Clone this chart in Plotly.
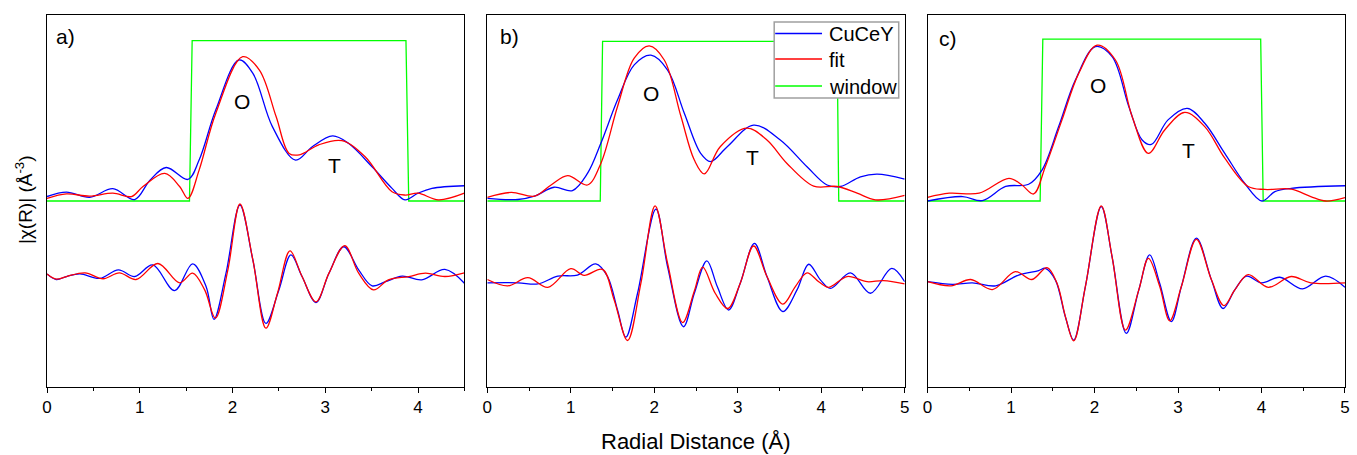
import plotly.graph_objects as go

# ---------------- Panel a ----------------
a_data_mag_R = [0, 0.21, 0.46, 0.71, 0.945, 1.11, 1.285, 1.52, 1.64, 1.82, 2.07, 2.22, 2.43, 2.68, 2.86, 3.08, 3.25, 3.505, 3.72, 3.86, 4.0, 4.15, 4.5]
a_data_mag = [0.512, 0.524, 0.510, 0.533, 0.504, 0.556, 0.590, 0.558, 0.610, 0.745, 0.879, 0.843, 0.700, 0.610, 0.646, 0.675, 0.655, 0.592, 0.534, 0.503, 0.521, 0.534, 0.541]
a_fit_mag_R = [0, 0.21, 0.46, 0.71, 0.91, 1.035, 1.27, 1.43, 1.52, 1.64, 1.82, 2.11, 2.29, 2.47, 2.61, 2.72, 2.93, 3.18, 3.43, 3.72, 3.86, 4.0, 4.22, 4.5]
a_fit_mag = [0.507, 0.519, 0.513, 0.521, 0.512, 0.539, 0.574, 0.539, 0.507, 0.583, 0.736, 0.888, 0.852, 0.727, 0.628, 0.624, 0.651, 0.662, 0.619, 0.525, 0.516, 0.521, 0.503, 0.521]
a_data_re_R = [0, 0.10, 0.21, 0.355, 0.57, 0.77, 0.945, 1.14, 1.375, 1.57, 1.715, 1.80, 1.93, 2.08, 2.22, 2.36, 2.50, 2.63, 2.75, 2.90, 3.04, 3.20, 3.36, 3.505, 3.65, 3.83, 4.04, 4.29, 4.5]
a_data_re = [0.304, 0.289, 0.297, 0.304, 0.292, 0.315, 0.297, 0.328, 0.259, 0.331, 0.270, 0.182, 0.306, 0.489, 0.341, 0.171, 0.261, 0.355, 0.297, 0.227, 0.306, 0.377, 0.315, 0.272, 0.283, 0.298, 0.288, 0.316, 0.279]
a_fit_re_R = [0, 0.10, 0.21, 0.41, 0.605, 0.78, 0.96, 1.196, 1.43, 1.57, 1.70, 1.815, 1.95, 2.08, 2.22, 2.36, 2.485, 2.62, 2.75, 2.90, 3.04, 3.21, 3.36, 3.52, 3.68, 3.90, 4.08, 4.29, 4.5]
a_fit_re = [0.304, 0.290, 0.297, 0.307, 0.291, 0.307, 0.289, 0.332, 0.280, 0.306, 0.261, 0.185, 0.315, 0.492, 0.341, 0.158, 0.252, 0.366, 0.297, 0.229, 0.306, 0.380, 0.306, 0.261, 0.288, 0.297, 0.306, 0.297, 0.307]
a_window_R = [0, 1.536, 1.565, 3.87, 3.90, 4.5]
a_window = [0.5, 0.5, 0.931, 0.931, 0.5, 0.5]

# ---------------- Panel b ----------------
b_data_mag_R = [0, 0.366, 0.565, 0.80, 1.02, 1.20, 1.36, 1.56, 1.76, 1.96, 2.16, 2.36, 2.556, 2.675, 2.874, 3.19, 3.51, 3.83, 4.07, 4.23, 4.47, 4.67, 5.0]
b_data_mag = [0.507, 0.504, 0.513, 0.537, 0.528, 0.574, 0.655, 0.772, 0.866, 0.892, 0.852, 0.736, 0.628, 0.606, 0.646, 0.704, 0.664, 0.592, 0.543, 0.539, 0.565, 0.572, 0.559]
b_fit_mag_R = [0, 0.287, 0.565, 0.764, 0.963, 1.20, 1.36, 1.56, 1.76, 1.94, 2.12, 2.32, 2.48, 2.60, 2.79, 3.11, 3.35, 3.59, 3.91, 4.19, 4.43, 4.65, 5.0]
b_fit_mag = [0.510, 0.523, 0.513, 0.543, 0.568, 0.543, 0.601, 0.754, 0.884, 0.917, 0.879, 0.727, 0.610, 0.573, 0.646, 0.696, 0.664, 0.601, 0.540, 0.539, 0.521, 0.503, 0.515]
b_data_re_R = [0, 0.37, 0.605, 0.844, 1.08, 1.30, 1.44, 1.56, 1.66, 1.80, 2.02, 2.16, 2.35, 2.48, 2.63, 2.755, 2.89, 3.03, 3.20, 3.35, 3.54, 3.71, 3.85, 3.99, 4.11, 4.35, 4.59, 4.845, 5.0]
b_data_re = [0.280, 0.280, 0.277, 0.298, 0.301, 0.331, 0.297, 0.207, 0.134, 0.252, 0.478, 0.323, 0.162, 0.252, 0.339, 0.270, 0.207, 0.279, 0.386, 0.297, 0.203, 0.261, 0.330, 0.288, 0.265, 0.307, 0.252, 0.319, 0.283]
b_fit_re_R = [0, 0.247, 0.486, 0.725, 1.00, 1.16, 1.38, 1.52, 1.68, 1.84, 2.01, 2.16, 2.34, 2.48, 2.58, 2.73, 2.88, 3.03, 3.19, 3.35, 3.54, 3.69, 3.83, 3.97, 4.09, 4.31, 4.55, 4.745, 5.0]
b_fit_re = [0.289, 0.272, 0.294, 0.268, 0.318, 0.300, 0.316, 0.234, 0.125, 0.279, 0.487, 0.332, 0.173, 0.258, 0.322, 0.252, 0.211, 0.279, 0.379, 0.297, 0.223, 0.270, 0.307, 0.283, 0.268, 0.297, 0.283, 0.286, 0.277]
b_window_R = [0, 1.353, 1.381, 4.19, 4.21, 5.0]
b_window = [0.5, 0.5, 0.929, 0.929, 0.5, 0.5]

# ---------------- Panel c ----------------
c_data_mag_R = [0, 0.42, 0.656, 0.935, 1.21, 1.37, 1.57, 1.77, 2.01, 2.21, 2.41, 2.57, 2.68, 2.88, 3.11, 3.32, 3.56, 3.80, 4.005, 4.16, 4.355, 5.0]
c_data_mag = [0.500, 0.512, 0.501, 0.539, 0.545, 0.583, 0.700, 0.825, 0.915, 0.888, 0.754, 0.664, 0.652, 0.718, 0.749, 0.709, 0.628, 0.547, 0.500, 0.525, 0.534, 0.541]
c_fit_mag_R = [0, 0.26, 0.617, 0.975, 1.13, 1.27, 1.41, 1.61, 1.81, 2.03, 2.25, 2.45, 2.645, 2.84, 3.08, 3.32, 3.56, 3.84, 4.04, 4.355, 4.59, 4.77, 5.0]
c_fit_mag = [0.510, 0.521, 0.521, 0.561, 0.543, 0.519, 0.592, 0.718, 0.843, 0.919, 0.879, 0.727, 0.628, 0.691, 0.738, 0.700, 0.615, 0.539, 0.531, 0.532, 0.512, 0.500, 0.509]
c_data_re_R = [0, 0.30, 0.537, 0.815, 1.09, 1.33, 1.41, 1.53, 1.65, 1.75, 1.89, 2.08, 2.21, 2.38, 2.53, 2.66, 2.78, 2.92, 3.04, 3.22, 3.40, 3.54, 3.68, 3.82, 4.0, 4.22, 4.49, 4.77, 5.0]
c_data_re = [0.283, 0.276, 0.280, 0.272, 0.301, 0.313, 0.319, 0.288, 0.189, 0.126, 0.270, 0.485, 0.350, 0.144, 0.261, 0.355, 0.279, 0.176, 0.270, 0.400, 0.288, 0.211, 0.261, 0.298, 0.280, 0.295, 0.264, 0.298, 0.268]
c_fit_re_R = [0, 0.28, 0.517, 0.776, 1.05, 1.25, 1.43, 1.55, 1.65, 1.75, 1.89, 2.08, 2.21, 2.37, 2.53, 2.645, 2.78, 2.90, 3.04, 3.22, 3.40, 3.55, 3.68, 3.84, 4.08, 4.355, 4.59, 5.0]
c_fit_re = [0.283, 0.272, 0.289, 0.262, 0.310, 0.289, 0.321, 0.279, 0.190, 0.124, 0.270, 0.487, 0.350, 0.153, 0.261, 0.346, 0.271, 0.178, 0.270, 0.397, 0.288, 0.219, 0.261, 0.302, 0.268, 0.297, 0.280, 0.280]
c_window_R = [0, 1.348, 1.38, 3.99, 4.02, 5.0]
c_window = [0.5, 0.5, 0.935, 0.935, 0.5, 0.5]

panel_labels = ["a)", "b)", "c)"]
series_names = ["CuCeY", "fit", "window"]
x_ranges = [[0, 4.5], [0, 5], [0, 5]]

BLUE = "#0000FF"
RED = "#FF0000"
GREEN = "#00FF00"
FONT = "Arial, Liberation Sans, sans-serif"
series_colors = [BLUE, RED, GREEN]

panels = [
    (a_data_mag_R, a_data_mag, a_fit_mag_R, a_fit_mag, a_data_re_R, a_data_re, a_fit_re_R, a_fit_re, a_window_R, a_window),
    (b_data_mag_R, b_data_mag, b_fit_mag_R, b_fit_mag, b_data_re_R, b_data_re, b_fit_re_R, b_fit_re, b_window_R, b_window),
    (c_data_mag_R, c_data_mag, c_fit_mag_R, c_fit_mag, c_data_re_R, c_data_re, c_fit_re_R, c_fit_re, c_window_R, c_window),
]

fig = go.Figure()
W, H = 1357, 455
ml, mr, mt, mb = 47, 7, 15, 68
pw = W - ml - mr
ph = H - mt - mb
px_domains = [(47, 466), (489, 908), (931, 1350)]
domains = [[(l - ml) / pw, (r - ml) / pw] for l, r in px_domains]


def pxx(x):
    return (x - ml) / pw


def pxy(y):
    return (H - mb - y) / ph


lw = 1.3
for i, p in enumerate(panels):
    dmR, dm, fmR, fm, drR, dr, frR, fr, wR, wv = p
    xa = "x" if i == 0 else f"x{i+1}"
    ya = "y" if i == 0 else f"y{i+1}"
    fig.add_trace(go.Scatter(x=wR, y=wv, mode="lines", line=dict(color=GREEN, width=lw),
                             name=series_names[2], showlegend=False, xaxis=xa, yaxis=ya))
    for xs, ys, col, nm in [(dmR, dm, BLUE, series_names[0]), (fmR, fm, RED, series_names[1]),
                            (drR, dr, BLUE, series_names[0]), (frR, fr, RED, series_names[1])]:
        fig.add_trace(go.Scatter(x=xs, y=ys, mode="lines",
                                 line=dict(color=col, width=lw, shape="spline", smoothing=1.0),
                                 name=nm, showlegend=False, xaxis=xa, yaxis=ya))

axis_common = dict(showline=True, linecolor="black", linewidth=1, mirror=True, showgrid=False, zeroline=False)
for i in range(3):
    sfx = "" if i == 0 else str(i + 1)
    fig.update_layout(**{
        f"xaxis{sfx}": dict(domain=domains[i], range=x_ranges[i], anchor=f"y{sfx}",
                            ticks="outside", ticklen=5, tickwidth=1, tickcolor="black", dtick=1,
                            minor=dict(ticks="outside", ticklen=3, dtick=0.5, tickcolor="black"),
                            tickfont=dict(family=FONT, size=17, color="black"), **axis_common),
        f"yaxis{sfx}": dict(domain=[0, 1], range=[0, 1], anchor=f"x{sfx}", showticklabels=False,
                            ticks="", **axis_common),
    })

label_pos = [(0.079, 0.942), (0.13, 0.942), (0.107, 0.937)]
O_pos = [(2.098, 0.767), (1.96, 0.789), (2.04, 0.810)]
T_pos = [(3.104, 0.595), (3.174, 0.616), (3.13, 0.637)]
ann = []
for i in range(3):
    xr = "x" if i == 0 else f"x{i+1}"
    yr = "y" if i == 0 else f"y{i+1}"
    ann.append(dict(x=label_pos[i][0], y=label_pos[i][1], xref=xr, yref=yr, text=panel_labels[i],
                    showarrow=False, xanchor="left", yanchor="middle", font=dict(family=FONT, size=21, color="black")))
    ann.append(dict(x=O_pos[i][0], y=O_pos[i][1], xref=xr, yref=yr, text="O",
                    showarrow=False, xanchor="center", yanchor="middle", font=dict(family=FONT, size=21, color="black")))
    ann.append(dict(x=T_pos[i][0], y=T_pos[i][1], xref=xr, yref=yr, text="T",
                    showarrow=False, xanchor="center", yanchor="middle", font=dict(family=FONT, size=21, color="black")))

ann.append(dict(x=pxx(699), y=pxy(441), xref="paper", yref="paper",
                text="Radial Distance (Å)", showarrow=False, xanchor="center", yanchor="middle",
                font=dict(family=FONT, size=22, color="black")))
ann.append(dict(x=pxx(24), y=pxy(200), xref="paper", yref="paper",
                text="|χ(R)| (Å<sup>-3</sup>)", textangle=-90, showarrow=False, xanchor="center", yanchor="middle",
                font=dict(family=FONT, size=19, color="black")))

# legend box (drawn in panel b, like the original)
shapes = [dict(type="rect", xref="paper", yref="paper", x0=pxx(777), x1=pxx(902), y0=pxy(98), y1=pxy(22),
               fillcolor="white", line=dict(color="#A0A0A0", width=1.5), layer="above")]
leg_y = [33.5, 59, 86]
for name, col, ly in zip(series_names, series_colors, leg_y):
    shapes.append(dict(type="line", xref="paper", yref="paper", x0=pxx(778), x1=pxx(825), y0=pxy(ly), y1=pxy(ly),
                       line=dict(color=col, width=lw), layer="above"))
    ann.append(dict(x=pxx(830), y=pxy(ly + 1), xref="paper", yref="paper", text=name, showarrow=False,
                    xanchor="left", yanchor="middle", font=dict(family=FONT, size=20, color="black")))

fig.update_layout(
    width=W, height=H,
    margin=dict(l=ml, r=mr, t=mt, b=mb),
    plot_bgcolor="white", paper_bgcolor="white",
    annotations=ann, shapes=shapes, showlegend=False,
)

fig.write_html("out.html", config={"displayModeBar": False},
               post_script="document.body.style.margin='0px';document.body.style.padding='0px';")
